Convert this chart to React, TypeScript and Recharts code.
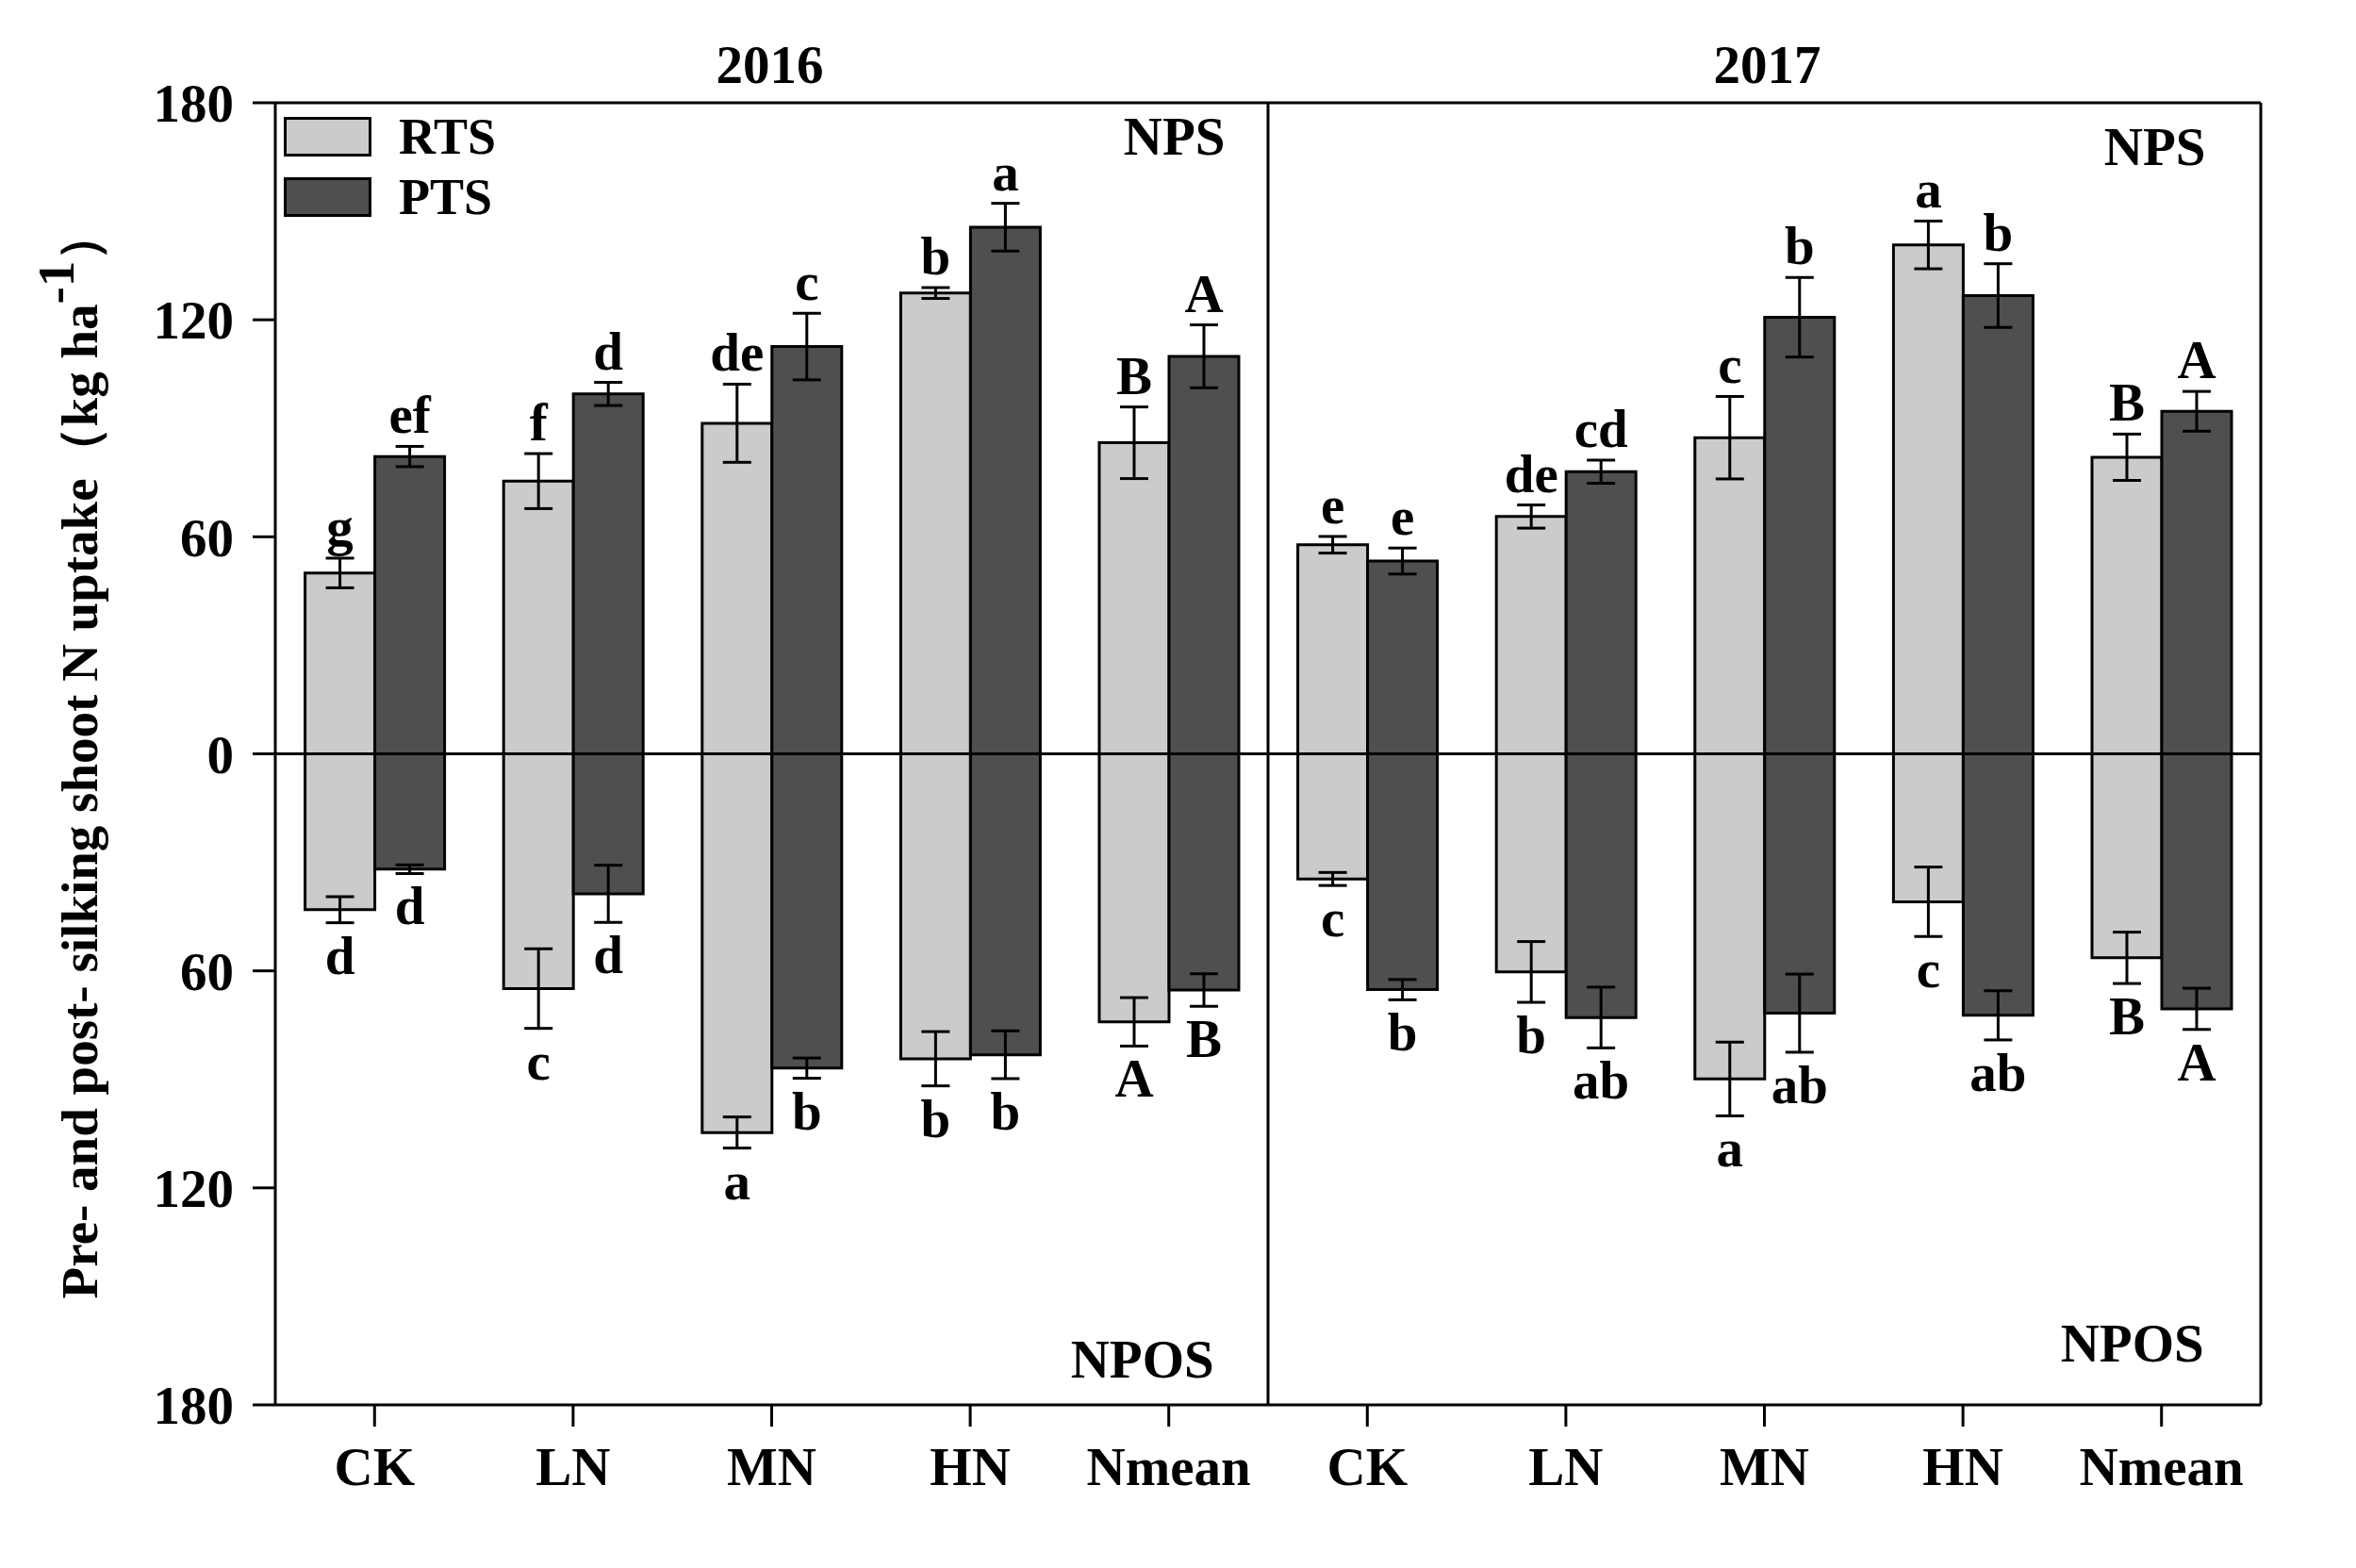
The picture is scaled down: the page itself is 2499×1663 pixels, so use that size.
import React from "react";
import {
  BarChart,
  Bar,
  XAxis,
  YAxis,
  ErrorBar,
  LabelList,
  ReferenceLine,
  ReferenceDot,
  Legend,
} from "recharts";

const FONT = "'Liberation Serif', 'Times New Roman', Times, serif";

const categories = ["CK", "LN", "MN", "HN", "Nmean", "CK", "LN", "MN", "HN", "Nmean"];
const years = ["2016", "2016", "2016", "2016", "2016", "2017", "2017", "2017", "2017", "2017"];

// pre-silking (NPS), kg ha-1
const rtsPos = [50.0, 75.4, 91.4, 127.4, 86.0, 57.8, 65.6, 87.4, 140.7, 82.0];
const rtsPosErr = [4.1, 7.6, 10.8, 1.5, 9.9, 2.3, 3.2, 11.4, 6.6, 6.4];
const ptsPos = [82.2, 99.5, 112.6, 145.6, 109.9, 53.3, 78.0, 120.7, 126.7, 94.7];
const ptsPosErr = [2.8, 3.2, 9.2, 6.6, 8.7, 3.6, 3.2, 11.0, 8.8, 5.5];

// post-silking (NPOS), drawn below zero
const rtsNeg = [43.1, 64.9, 104.7, 84.3, 74.1, 34.6, 60.3, 89.9, 40.9, 56.4];
const rtsNegErr = [3.6, 11.0, 4.3, 7.5, 6.7, 1.8, 8.4, 10.2, 9.6, 7.1];
const ptsNeg = [31.9, 38.7, 86.9, 83.2, 65.3, 65.2, 72.9, 71.7, 72.3, 70.5];
const ptsNegErr = [1.2, 7.9, 2.8, 6.6, 4.5, 2.8, 8.4, 10.8, 6.8, 5.7];

const rtsPosLetters = ["g", "f", "de", "b", "B", "e", "de", "c", "a", "B"];
const ptsPosLetters = ["ef", "d", "c", "a", "A", "e", "cd", "b", "b", "A"];
const rtsNegLetters = ["d", "c", "a", "b", "A", "c", "b", "a", "c", "B"];
const ptsNegLetters = ["d", "d", "b", "b", "B", "b", "ab", "ab", "ab", "A"];

const yTicks = [180, 120, 60, 0, -60, -120, -180];
const legendOrder = ["RTS", "PTS"];

const annotations = [
  { text: "2016", x: "MN-2016", y: 185.6, dx: -2 },
  { text: "2017", x: "MN-2017", y: 185.6, dx: 3 },
  { text: "NPS", x: "Nmean-2016", y: 165.6, dx: 6 },
  { text: "NPS", x: "Nmean-2017", y: 162.7, dx: -7 },
  { text: "NPOS", x: "Nmean-2016", y: -172.4, dx: -28 },
  { text: "NPOS", x: "Nmean-2017", y: -167.9, dx: -31 },
];

const RTS_COLOR = "#cbcbcb";
const PTS_COLOR = "#4f4f4f";

const data = categories.map((c, i) => ({
  key: `${c}-${years[i]}`,
  rtsPos: rtsPos[i],
  rtsPosErr: rtsPosErr[i],
  rtsPosLbl: rtsPosLetters[i],
  ptsPos: ptsPos[i],
  ptsPosErr: ptsPosErr[i],
  ptsPosLbl: ptsPosLetters[i],
  rtsNeg: -rtsNeg[i],
  rtsNegErr: rtsNegErr[i],
  rtsNegLbl: rtsNegLetters[i],
  ptsNeg: -ptsNeg[i],
  ptsNegErr: ptsNegErr[i],
  ptsNegLbl: ptsNegLetters[i],
}));

const textStyle = { fontFamily: FONT, fontWeight: "bold" as const, fill: "#000" };

const letterLabel = (values: number[], errs: number[], below: boolean) => (props: any) => {
  const { viewBox, value, index } = props;
  if (!viewBox || value == null) return null;
  const { x, y, width, height } = viewBox;
  const top = Math.min(y, y + height);
  const bottom = Math.max(y, y + height);
  const pxPerUnit = Math.abs(height) / values[index];
  const errPx = errs[index] * pxPerUnit;
  const baseline = below ? bottom + errPx + 54 : top - errPx - 14;
  return (
    <text x={x + width / 2} y={baseline} textAnchor="middle" fontSize={57} {...textStyle}>
      {value}
    </text>
  );
};

const annotationLabel = (text: string, dx: number) => (props: any) => {
  const vb = props.viewBox || {};
  const cx = vb.x + (vb.width || 0) / 2;
  const cy = vb.y + (vb.height || 0) / 2;
  return (
    <text x={cx + dx} y={cy} textAnchor="middle" fontSize={57} {...textStyle}>
      {text}
    </text>
  );
};

const renderYLabel = (props: any) => {
  const vb = props.viewBox || { x: 92, y: 109, width: 200, height: 1381 };
  const x = vb.x + 11;
  const y = vb.y + vb.height / 2;
  return (
    <text
      x={x}
      y={y}
      transform={`rotate(-90, ${x}, ${y})`}
      textAnchor="middle"
      fontSize={55}
      {...textStyle}
    >
      Pre- and post- silking shoot N uptake（kg ha
      <tspan dy="-0.45em">-1</tspan>
      <tspan dy="0.45em">）</tspan>
    </text>
  );
};

const renderLegend = (props: any) => {
  const items = (props.payload || [])
    .filter((p: any) => p.type !== "none")
    .sort((a: any, b: any) => legendOrder.indexOf(a.value) - legendOrder.indexOf(b.value));
  return (
    <div>
      {items.map((item: any) => (
        <div key={item.value} style={{ display: "flex", alignItems: "center", height: 64 }}>
          <div
            style={{
              width: 93,
              height: 42,
              background: item.color,
              border: "3px solid #000",
              boxSizing: "border-box",
            }}
          />
          <span
            style={{
              marginLeft: 29,
              fontFamily: FONT,
              fontWeight: "bold",
              fontSize: 54,
              color: "#000",
              lineHeight: "54px",
            }}
          >
            {item.value}
          </span>
        </div>
      ))}
    </div>
  );
};

export default function App() {
  return (
    <div style={{ position: "absolute", left: 0, top: 0, width: 2499, height: 1663, background: "#fff" }}>
      <BarChart
        width={2499}
        height={1663}
        data={data}
        stackOffset="sign"
        barCategoryGap="15%"
        barGap={0}
        margin={{ top: 109, right: 101, left: 92, bottom: 53 }}
      >
        <XAxis
          dataKey="key"
          height={120}
          tickFormatter={(_v: any, i: number) => categories[i]}
          tick={{ ...textStyle, fontSize: 57 }}
          tickSize={23}
          tickMargin={22}
          axisLine={{ stroke: "#000", strokeWidth: 3 }}
          tickLine={{ stroke: "#000", strokeWidth: 3 }}
          interval={0}
        />
        <YAxis
          width={200}
          type="number"
          domain={[-180, 180]}
          ticks={yTicks}
          tickFormatter={(v: number) => String(Math.abs(v))}
          tick={{ ...textStyle, fontSize: 57 }}
          tickSize={24}
          tickMargin={20}
          axisLine={{ stroke: "#000", strokeWidth: 3 }}
          tickLine={{ stroke: "#000", strokeWidth: 3 }}
          allowDataOverflow
          label={{ content: renderYLabel }}
        />
        <Legend
          layout="vertical"
          align="center"
          verticalAlign="middle"
          content={renderLegend}
          wrapperStyle={{ left: 301, top: 113, width: 300, height: 130 }}
        />
        <Bar dataKey="rtsPos" name="RTS" stackId="r" fill={RTS_COLOR} stroke="#000" strokeWidth={3} isAnimationActive={false}>
          <ErrorBar dataKey="rtsPosErr" width={15} stroke="#000" strokeWidth={3} direction="y" />
          <LabelList dataKey="rtsPosLbl" content={letterLabel(rtsPos, rtsPosErr, false)} />
        </Bar>
        <Bar dataKey="rtsNeg" name="RTS-" legendType="none" stackId="r" fill={RTS_COLOR} stroke="#000" strokeWidth={3} isAnimationActive={false}>
          <ErrorBar dataKey="rtsNegErr" width={15} stroke="#000" strokeWidth={3} direction="y" />
          <LabelList dataKey="rtsNegLbl" content={letterLabel(rtsNeg, rtsNegErr, true)} />
        </Bar>
        <Bar dataKey="ptsPos" name="PTS" stackId="p" fill={PTS_COLOR} stroke="#000" strokeWidth={3} isAnimationActive={false}>
          <ErrorBar dataKey="ptsPosErr" width={15} stroke="#000" strokeWidth={3} direction="y" />
          <LabelList dataKey="ptsPosLbl" content={letterLabel(ptsPos, ptsPosErr, false)} />
        </Bar>
        <Bar dataKey="ptsNeg" name="PTS-" legendType="none" stackId="p" fill={PTS_COLOR} stroke="#000" strokeWidth={3} isAnimationActive={false}>
          <ErrorBar dataKey="ptsNegErr" width={15} stroke="#000" strokeWidth={3} direction="y" />
          <LabelList dataKey="ptsNegLbl" content={letterLabel(ptsNeg, ptsNegErr, true)} />
        </Bar>
        <ReferenceLine y={0} stroke="#000" strokeWidth={3} />
        <ReferenceLine y={180} stroke="#000" strokeWidth={3} />
        <ReferenceLine x="CK-2017" position="start" stroke="#000" strokeWidth={3} />
        <ReferenceLine x="Nmean-2017" position="end" stroke="#000" strokeWidth={3} />
        {annotations.map((a) => (
          <ReferenceDot
            key={a.text + a.x}
            x={a.x}
            y={a.y}
            r={2}
            fill="none"
            stroke="none"
            ifOverflow="visible"
            label={{ content: annotationLabel(a.text, a.dx) }}
          />
        ))}
      </BarChart>
    </div>
  );
}
